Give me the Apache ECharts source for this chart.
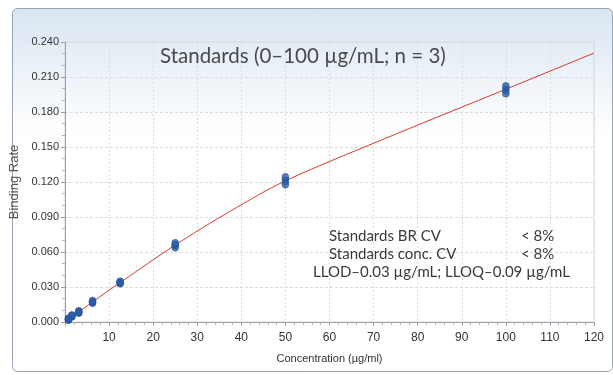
<!DOCTYPE html>
<html>
<head>
<meta charset="utf-8">
<script src="https://cdn.jsdelivr.net/npm/echarts@6/dist/echarts.min.js"></script>
<style>html,body{margin:0;padding:0;background:#fff}#c{width:613px;height:375px}</style>
</head>
<body>
<div id="c"></div>
<script>
// Standards concentrations (µg/mL) and replicate binding rates (n = 3)
var concentrations = [0.78, 1.56, 3.125, 6.25, 12.5, 25, 50, 100];
var rep1 = [0.0020, 0.0048, 0.0080, 0.0165, 0.0332, 0.0640, 0.1180, 0.1960];
var rep2 = [0.0024, 0.0052, 0.0086, 0.0172, 0.0338, 0.0660, 0.1210, 0.1990];
var rep3 = [0.0028, 0.0056, 0.0092, 0.0180, 0.0345, 0.0675, 0.1240, 0.2020];
// Fitted curve
var fitX = [0.78, 3.125, 6.25, 12.5, 25, 37.5, 50, 75, 100, 120];
var fitY = [0.0025, 0.0085, 0.0172, 0.0338, 0.0660, 0.0950, 0.1210, 0.1610, 0.1995, 0.2305];
var xTicks = [0, 10, 20, 30, 40, 50, 60, 70, 80, 90, 100, 110, 120];
var yTicks = [0, 0.03, 0.06, 0.09, 0.12, 0.15, 0.18, 0.21, 0.24];

var pts = [];
[rep1, rep2, rep3].forEach(function (r) {
  r.forEach(function (v, i) { pts.push([concentrations[i], v]); });
});
var fit = fitX.map(function (x, i) { return [x, fitY[i]]; });

var chart = echarts.init(document.getElementById('c'), null, {renderer: 'canvas'});
var narrow = '"Liberation Sans Narrow", "Liberation Sans", Arial, sans-serif';
var annot = {fontFamily: 'Lato', fontWeight: 'normal', fontSize: 15, color: '#3a3a3a'};
chart.setOption({
  animation: false,
  graphic: [{
    type: 'rect', z: -10, silent: true,
    shape: {x: 12.5, y: 8.5, width: 600, height: 363, r: 5},
    style: {
      stroke: '#9aa4b2', lineWidth: 1,
      fill: {type: 'linear', x: 0, y: 0, x2: 0, y2: 1, colorStops: [
        {offset: 0, color: '#d9e5f2'}, {offset: 0.35, color: '#ffffff'}, {offset: 1, color: '#ffffff'}]}
    }
  }],
  title: [
    {text: 'Standards (0\u2013100 \u00b5g/mL; n = 3)', left: 160, top: 46, padding: 0,
     textStyle: {fontFamily: 'Lato', fontWeight: 'normal', fontSize: 20.5, color: '#4a4a4a'}},
    {text: 'Standards BR CV', left: 329, top: 229, padding: 0, textStyle: annot},
    {text: '< 8%', left: 521, top: 229, padding: 0, textStyle: annot},
    {text: 'Standards conc. CV', left: 329, top: 247, padding: 0, textStyle: annot},
    {text: '< 8%', left: 521, top: 247, padding: 0, textStyle: annot},
    {text: 'LLOD\u20130.03 \u00b5g/mL; LLOQ\u20130.09 \u00b5g/mL', left: 313, top: 265, padding: 0, textStyle: annot}
  ],
  grid: {left: 62.5, right: 19, top: 42, bottom: 53, show: true, borderColor: '#d4d8de', borderWidth: 1, backgroundColor: 'transparent'},
  xAxis: {
    type: 'value', min: 0, max: 120, interval: 10,
    name: 'Concentration (\u00b5g/ml)', nameLocation: 'middle', nameGap: 31,
    nameTextStyle: {fontFamily: narrow, fontSize: 11, color: '#333'},
    axisLine: {show: true, lineStyle: {color: '#9aa0a8'}},
    axisTick: {show: true, length: 4, lineStyle: {color: '#9aa0a8'}},
    minorTick: {show: true, splitNumber: 5, length: 3, lineStyle: {color: '#b0b5bc'}},
    axisLabel: {fontFamily: narrow, fontSize: 12, color: '#333', margin: 10,
      formatter: function (v) { return (v === 0 || xTicks.indexOf(v) < 0) ? '' : String(v); }},
    splitLine: {show: true, lineStyle: {color: '#dcdcdc', type: [2, 2]}}
  },
  yAxis: {
    type: 'value', min: 0, max: 0.24, interval: 0.03,
    name: 'Binding Rate', nameLocation: 'middle', nameGap: 44, nameMoveOverlap: false,
    nameTextStyle: {fontFamily: '"Liberation Sans", Arial, sans-serif', fontSize: 13, color: '#555'},
    axisLine: {show: true, lineStyle: {color: '#9aa0a8'}},
    axisTick: {show: true, length: 4, lineStyle: {color: '#9aa0a8'}},
    minorTick: {show: true, splitNumber: 3, length: 3, lineStyle: {color: '#b0b5bc'}},
    axisLabel: {fontFamily: narrow, fontSize: 11, color: '#333', margin: 6,
      formatter: function (v) { return v.toFixed(3); }},
    splitLine: {show: true, lineStyle: {color: '#dcdcdc', type: [3, 2]}}
  },
  series: [
    {type: 'line', data: fit, smooth: 0.3, showSymbol: false, symbol: 'none',
     lineStyle: {color: '#d8392c', width: 1}, z: 2},
    {type: 'scatter', data: pts, symbol: 'circle', symbolSize: [7, 8],
     itemStyle: {color: '#2b5ba6', borderColor: '#1f4a8f', borderWidth: 0.5}, z: 3}
  ]
});
</script>
</body>
</html>
